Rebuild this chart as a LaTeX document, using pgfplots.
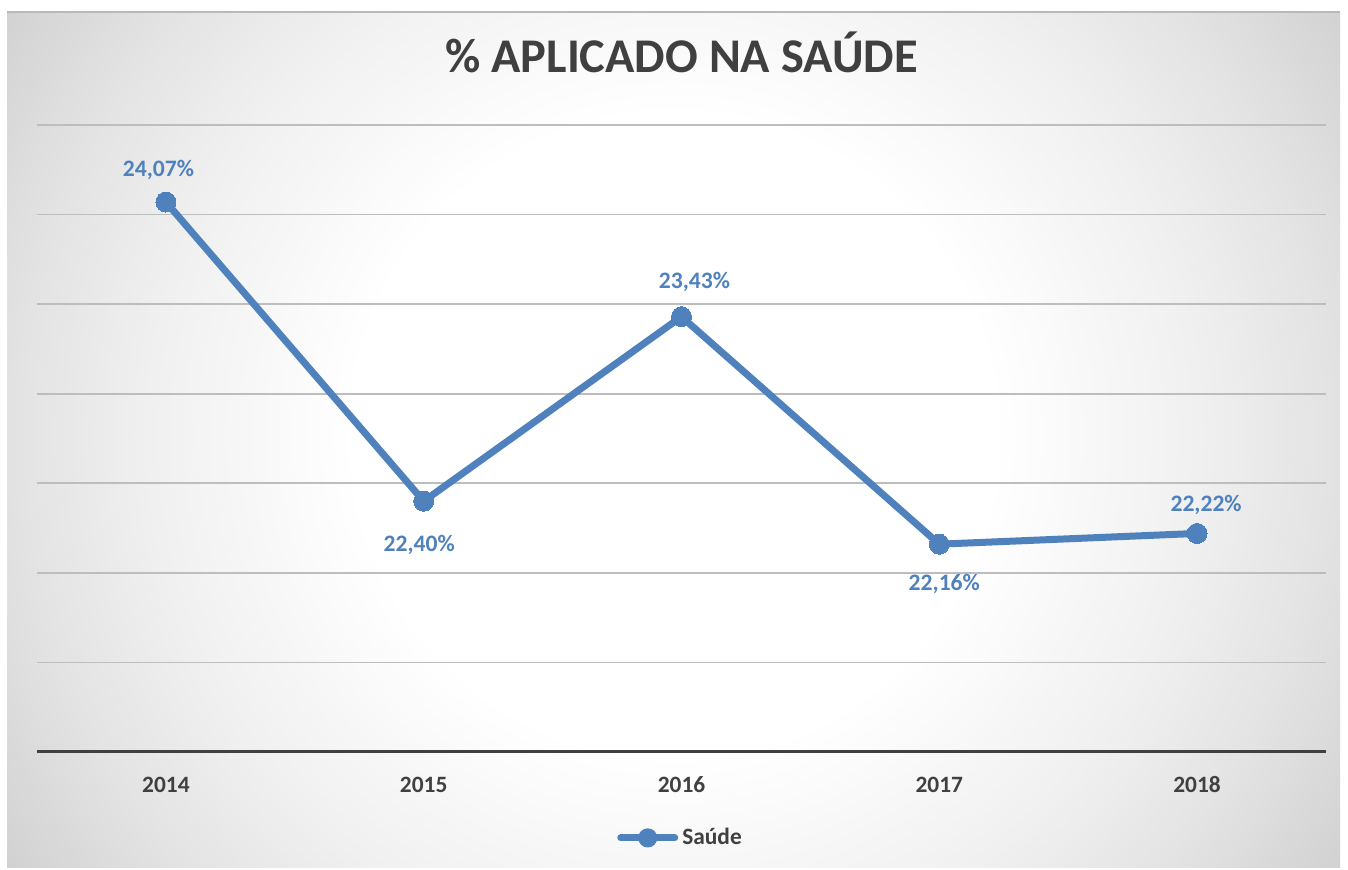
\documentclass[border=0pt]{standalone}
\usepackage{pgfplots}
\pgfplotsset{compat=1.18}
\usepackage{pgfplotstable}
\usepackage{fontspec}
\setmainfont{Carlito}
\definecolor{sblue}{HTML}{4F81BD}
\definecolor{dgray}{HTML}{404040}
\definecolor{gridc}{HTML}{BDBDBD}
\definecolor{bgA}{rgb}{0.94,0.94,0.94}
\definecolor{bgB}{rgb}{0.89,0.89,0.89}
\definecolor{bgC}{rgb}{0.81,0.81,0.81}
\definecolor{bgD}{rgb}{0.77,0.77,0.77}
\definecolor{bgE}{rgb}{0.70,0.70,0.70}
\pgfdeclareradialshading{bgshade}{\pgfpoint{0bp}{0bp}}{color(0bp)=(white); color(10bp)=(white); color(16.5bp)=(bgA); color(20.5bp)=(bgB); color(25.5bp)=(bgC); color(30bp)=(bgD); color(50bp)=(bgE)}

\pgfplotstableread{
x y lbl dx dy
0 24.07 24,07 -3.75 16.25
1 22.40 22,40 -2.25 -22
2 23.43 23,43 6.5 17.25
3 22.16 22,16 2.5 -19.75
4 22.22 22,22 4.5 14.25
}\datatable

\begin{document}
\begin{tikzpicture}
\fill[white] (0pt,0pt) rectangle (674pt,435pt);
\begin{scope}
\clip (3.5pt,1pt) rectangle (670pt,429pt);
\shade[shading=bgshade] (-63pt,-182.5pt) rectangle (737pt,617.5pt);
\end{scope}
\draw[gray!55, line width=0.7pt] (3.5pt,429pt) -- (670pt,429pt);
\begin{axis}[
  at={(18.5pt,59pt)}, anchor=south west,
  scale only axis, width=644.5pt, height=313.5pt,
  xmin=-0.5, xmax=4.5, ymin=21, ymax=24.5,
  axis x line*=bottom, axis y line*=left,
  y axis line style={draw=none},
  x axis line style={dgray, line width=1.5pt, -},
  xtick={0,1,2,3,4}, xticklabels={2014,2015,2016,2017,2018},
  major tick length=0pt,
  xticklabel style={anchor=center, yshift=-16.25pt, font=\fontsize{11.7pt}{14pt}\selectfont\bfseries, text=dgray},
  ytick={21.5,22,22.5,23,23.5,24,24.5}, yticklabels={},
  ymajorgrids, major grid style={gridc, line width=0.8pt},
  clip=false,
  title={\% APLICADO NA SAÚDE},
  title style={at={(0.5,1)}, anchor=center, yshift=30.5pt, font=\fontsize{24.2pt}{29pt}\selectfont\bfseries, text=dgray},
  legend style={draw=none, fill=none, at={(0.5,-0.137)}, anchor=center, font=\fontsize{11.7pt}{14pt}\selectfont\bfseries, text=dgray, inner sep=0pt},
  legend image code/.code={\draw[line width=3.5pt, sblue, line cap=round] (0pt,0pt) -- (27pt,0pt); \fill[sblue] (13.5pt,0pt) circle (3pt);},
]
\addplot[sblue, line width=3.5pt, mark=*, mark size=5pt, mark options={solid, fill=sblue, draw=sblue, line width=0pt},
  point meta=explicit symbolic,
  visualization depends on={\thisrow{dx} \as \ldx},
  visualization depends on={\thisrow{dy} \as \ldy},
  nodes near coords={\pgfplotspointmeta\%},
  every node near coord/.append style={anchor=center, inner sep=0pt, xshift=\ldx pt, yshift=\ldy pt, font=\fontsize{11.8pt}{14pt}\selectfont\bfseries, text=sblue},
] table[x=x, y=y, meta=lbl] {\datatable};
\addlegendentry{Saúde}
\end{axis}
\end{tikzpicture}
\end{document}
